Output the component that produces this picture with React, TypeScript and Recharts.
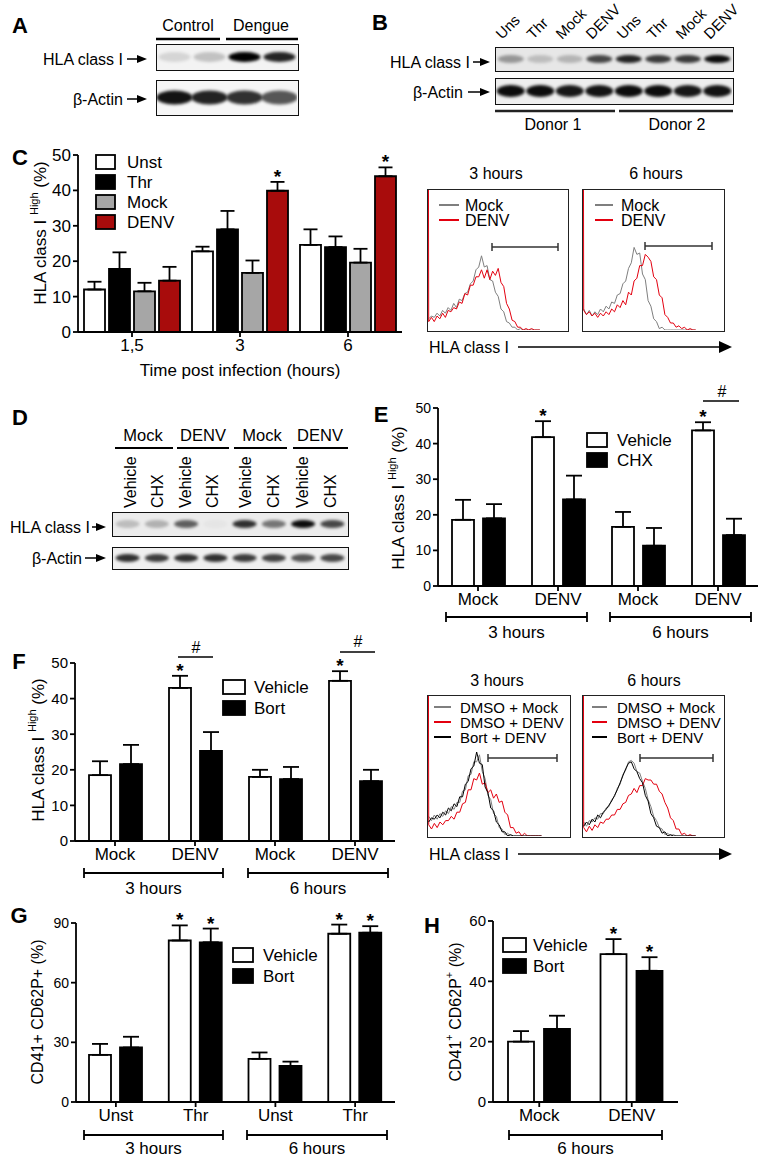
import React from "react";
import { BarChart, Bar, XAxis, YAxis, ErrorBar, LabelList, LineChart, Line, ScatterChart, Scatter } from "recharts";

const FONT = '"Liberation Sans", Arial, Helvetica, sans-serif';
const WHITE = "#ffffff";
const BLACK = "#000000";
const GREY = "#a6a6a6";
const DARKRED = "#a80c0c";
const H_GREY = "#7f7f7f";
const H_RED = "#e3000f";
const H_BLACK = "#000000";

// ---- blots (band intensities 0..1, one per lane)
const blotA_hla = [0.12, 0.2, 1, 0.85];
const blotA_actin = [0.92, 0.86, 0.8, 0.65];
const blotB_lanes = ["Uns", "Thr", "Mock", "DENV", "Uns", "Thr", "Mock", "DENV"];
const blotB_hla = [0.35, 0.18, 0.22, 0.7, 0.85, 0.75, 0.75, 0.95];
const blotB_actin = [0.95, 0.95, 0.9, 0.92, 0.95, 0.95, 0.9, 0.92];
const blotD_groups = ["Mock", "DENV", "Mock", "DENV"];
const blotD_lanes = ["Vehicle", "CHX", "Vehicle", "CHX", "Vehicle", "CHX", "Vehicle", "CHX"];
const blotD_hla = [0.2, 0.25, 0.6, 0.03, 0.8, 0.5, 0.95, 0.7];
const blotD_actin = [0.8, 0.75, 0.8, 0.8, 0.75, 0.72, 0.65, 0.7];

// ---- panel C
const timePoints = ["1,5", "3", "6"];
const cUnst = [12, 22.8, 24.6];
const cUnstErr = [2.2, 1.3, 4.4];
const cThr = [17.8, 29, 24];
const cThrErr = [4.7, 5.2, 3];
const cMock = [11.5, 16.7, 19.6];
const cMockErr = [2.4, 3.5, 3.9];
const cDenv = [14.5, 39.9, 44];
const cDenvErr = [3.9, 2.5, 2.5];
const cDenvStar = ["", "*", "*"];

// ---- histograms (bins at x = 0.5, 2.5, 4.5 ...; red curves also hit the left edge)
const hC3_mock = [8, 10, 9, 12, 10, 14, 12, 16, 14, 19, 16, 22, 21, 26, 27, 33, 35, 43, 45, 53, 45, 46, 36, 35, 27, 24, 15, 13, 6, 5, 2, 2, 0, 1, 0, 0, 0, 0, 0, 0, 0];
const hC3_denv = [6, 9, 6, 10, 8, 12, 9, 14, 13, 16, 15, 20, 19, 26, 25, 32, 32, 38, 38, 43, 37, 43, 36, 42, 39, 44, 34, 31, 19, 15, 7, 6, 2, 2, 0, 1, 0, 1, 0, 0, 0];
const hC6_mock = [15, 11, 14, 10, 13, 11, 15, 13, 17, 15, 20, 19, 25, 26, 33, 35, 44, 48, 59, 54, 55, 40, 36, 21, 17, 8, 6, 1, 2, 0, 0, 0, 0, 0, 0, 0, 0, 0, 0, 0, 0];
const hC6_denv = [14, 11, 13, 10, 12, 9, 12, 10, 13, 11, 15, 13, 18, 16, 21, 18, 27, 25, 35, 37, 46, 46, 54, 52, 49, 38, 36, 25, 23, 11, 9, 5, 5, 2, 3, 1, 2, 0, 1, 0, 0];
const hF3_mock = [14, 11, 15, 12, 16, 14, 18, 16, 21, 19, 24, 24, 32, 33, 43, 44, 53, 53, 58, 46, 41, 29, 26, 16, 14, 6, 5, 1, 2, 0, 0, 0, 0, 0, 0, 0, 0, 0, 0, 0, 0];
const hF3_denv = [8, 5, 9, 6, 10, 8, 11, 11, 14, 12, 17, 17, 23, 24, 33, 33, 41, 40, 45, 37, 38, 31, 33, 27, 30, 24, 25, 17, 15, 6, 6, 2, 3, 0, 2, 0, 0, 0, 0, 0, 0];
const hF3_bort = [10, 13, 12, 15, 13, 17, 15, 20, 18, 23, 21, 28, 28, 37, 39, 48, 50, 60, 52, 51, 35, 31, 20, 18, 10, 8, 3, 3, 0, 1, 0, 0, 0, 0, 0, 0, 0, 0, 0, 0, 0];
const hF6_mock = [10, 7, 11, 10, 13, 12, 16, 16, 20, 21, 26, 28, 34, 37, 44, 47, 53, 54, 52, 46, 45, 39, 34, 26, 21, 14, 11, 6, 5, 1, 2, 0, 1, 0, 0, 0, 0, 0, 0, 0, 0];
const hF6_denv = [6, 3, 7, 4, 8, 6, 10, 9, 12, 12, 15, 15, 19, 19, 23, 24, 29, 30, 34, 31, 36, 36, 41, 40, 40, 37, 37, 32, 30, 24, 20, 13, 11, 5, 5, 1, 2, 0, 1, 0, 0];
const hF6_bort = [7, 10, 8, 12, 10, 15, 13, 17, 19, 22, 25, 29, 33, 38, 43, 48, 52, 53, 48, 46, 41, 38, 29, 25, 16, 13, 7, 6, 2, 3, 0, 1, 0, 0, 0, 0, 0, 0, 0, 0, 0];

// ---- panels E, F, G, H
const treatCats = ["Mock", "DENV", "Mock", "DENV"];
const eVehicle = [18.6, 41.8, 16.6, 43.7];
const eVehicleErr = [5.6, 4.5, 4.2, 2.3];
const eChx = [19, 24.3, 11.3, 14.3];
const eChxErr = [4, 6.7, 5, 4.6];
const eStars = ["", "*", "", "*"];

const fVehicle = [18.5, 43, 18, 45];
const fVehicleErr = [3.9, 3.4, 2, 2.7];
const fBort = [21.6, 25.3, 17.4, 16.8];
const fBortErr = [5.4, 5.3, 3.4, 3.2];
const fStars = ["", "*", "", "*"];

const stimCats = ["Unst", "Thr", "Unst", "Thr"];
const gVehicle = [23.7, 81.2, 21.7, 84.6];
const gVehicleErr = [5.5, 7.6, 3.2, 4.6];
const gBort = [27.4, 80.3, 18.1, 85.1];
const gBortErr = [5.4, 6.9, 2.2, 3.3];
const gStars = ["", "*", "", "*"];

const hCats = ["Mock", "DENV"];
const hVehicle = [20, 49];
const hVehicleErr = [3.5, 5];
const hBort = [24.2, 43.5];
const hBortErr = [4.4, 4.5];
const hStars = ["", "*"];

type Series = { name: string; values: number[]; errs: number[]; stars?: string[]; fill: string };

function Star(props: any) {
  const { value } = props;
  if (!value) return null;
  const vb = typeof props.x === "number" ? props : props.viewBox;
  const { x, y, width, height } = vb;
  const [v, e] = String(value).split("|").map(Number);
  const top = y - (e * height) / v;
  return (
    <text x={x + width / 2} y={top + 1} textAnchor="middle" fontSize={19} fontWeight="bold" fill="#000">
      *
    </text>
  );
}

function GroupBars(p: {
  x: number; y: number; w: number; h: number; axisW: number; mt: number; mr: number;
  cats: string[]; series: Series[]; max: number; ticks: number[];
  barSize: number; barGap: number; capW: number; yFont: number; xFont: number;
}) {
  const data = p.cats.map((c, i) => {
    const row: any = { cat: i };
    p.series.forEach((s, j) => {
      row["v" + j] = s.values[i];
      row["e" + j] = [0, s.errs[i]];
      row["s" + j] = s.stars && s.stars[i] ? `${s.values[i]}|${s.errs[i]}` : null;
    });
    return row;
  });
  const ax = { stroke: "#000", strokeWidth: 1.8 };
  return (
    <div style={{ position: "absolute", left: p.x, top: p.y }}>
      <BarChart width={p.w} height={p.h} data={data} margin={{ top: p.mt, right: p.mr, bottom: 0, left: 0 }}
        barSize={p.barSize} barGap={p.barGap}>
        <XAxis dataKey="cat" tickFormatter={(v: any) => p.cats[v]} interval={0} height={30} tickSize={5}
          axisLine={ax} tickLine={ax} tick={{ fontSize: p.xFont, fill: "#000" }} />
        <YAxis width={p.axisW} domain={[0, p.max]} ticks={p.ticks} interval={0} tickSize={5}
          axisLine={ax} tickLine={ax} tick={{ fontSize: p.yFont, fill: "#000" }} />
        {p.series.map((s, j) => (
          <Bar key={s.name} dataKey={"v" + j} fill={s.fill} stroke="#000" strokeWidth={1.8} isAnimationActive={false}>
            <ErrorBar dataKey={"e" + j} width={p.capW} stroke="#000" strokeWidth={1.8} direction="y" />
            <LabelList dataKey={"s" + j} content={Star} />
          </Bar>
        ))}
      </BarChart>
    </div>
  );
}

type Curve = { values: number[]; color: string; edge?: number };

function Hist(p: { x: number; y: number; w: number; h: number; curves: Curve[] }) {
  const n = p.curves[0].values.length;
  const rows: any[] = [];
  const first: any = { x: 0.35 };
  p.curves.forEach((c, j) => { if (c.edge !== undefined) first["c" + j] = c.edge; });
  rows.push(first);
  for (let i = 0; i < n; i++) {
    const r: any = { x: 0.5 + 2 * i };
    p.curves.forEach((c, j) => { r["c" + j] = c.values[i]; });
    rows.push(r);
  }
  return (
    <div style={{ position: "absolute", left: p.x, top: p.y, width: p.w, height: p.h, border: "1.5px solid #222", boxSizing: "border-box" }}>
      <LineChart width={p.w - 3} height={p.h - 3} data={rows} margin={{ top: 0, right: 0, bottom: 0, left: 0 }}>
        <XAxis type="number" dataKey="x" domain={[0, 100]} hide />
        <YAxis type="number" domain={[0, 100]} hide allowDataOverflow />
        {p.curves.map((c, j) => (
          <Line key={j} dataKey={"c" + j} stroke={c.color} strokeWidth={1} dot={false} type="linear"
            isAnimationActive={false} connectNulls />
        ))}
      </LineChart>
    </div>
  );
}

function Blot(p: { x: number; y: number; w: number; h: number; bands: number[]; rx: number; ry: number; bg: string }) {
  const data = p.bands.map((v, i) => ({ lane: i + 1, y: 0.5, v }));
  return (
    <div style={{ position: "absolute", left: p.x, top: p.y, width: p.w, height: p.h, border: "1.5px solid #111", background: p.bg, boxSizing: "border-box" }}>
      <ScatterChart width={p.w - 3} height={p.h - 3} margin={{ top: 0, right: 0, bottom: 0, left: 0 }}>
        <XAxis type="number" dataKey="lane" domain={[0.5, p.bands.length + 0.5]} hide />
        <YAxis type="number" dataKey="y" domain={[0, 1]} hide />
        <Scatter data={data} isAnimationActive={false}
          shape={(s: any) => (
            <ellipse cx={s.cx} cy={s.cy} rx={p.rx} ry={p.ry} fill="#000" fillOpacity={s.payload.v} filter="url(#bandBlur)" />
          )} />
      </ScatterChart>
    </div>
  );
}

function SvgLegend(p: { x: number; y: number; row: number; bw: number; bh: number; tx: number; size: number; items: { name: string; fill: string }[] }) {
  return (
    <g>
      {p.items.map((it, i) => (
        <g key={it.name}>
          <rect x={p.x} y={p.y + i * p.row - p.bh / 2} width={p.bw} height={p.bh} fill={it.fill} stroke="#000" strokeWidth={1.8} />
          <text x={p.x + p.tx} y={p.y + i * p.row} fontSize={p.size} dominantBaseline="central">{it.name}</text>
        </g>
      ))}
    </g>
  );
}

function LineLegend(p: { x: number; y: number; row: number; len: number; tx: number; size: number; items: { name: string; color: string }[] }) {
  return (
    <g>
      {p.items.map((it, i) => (
        <g key={it.name}>
          <line x1={p.x} x2={p.x + p.len} y1={p.y + i * p.row} y2={p.y + i * p.row} stroke={it.color} strokeWidth={2} />
          <text x={p.x + p.tx} y={p.y + i * p.row} fontSize={p.size} dominantBaseline="central">{it.name}</text>
        </g>
      ))}
    </g>
  );
}

function Arrow(p: { x1: number; x2: number; y: number; head?: number; hh?: number; sw?: number }) {
  const head = p.head || 10;
  const hh = p.hh || 4;
  return (
    <g>
      <line x1={p.x1} x2={p.x2 - head + 1} y1={p.y} y2={p.y} stroke="#000" strokeWidth={p.sw || 1.5} />
      <polygon points={`${p.x2 - head},${p.y - hh} ${p.x2},${p.y} ${p.x2 - head},${p.y + hh}`} fill="#000" />
    </g>
  );
}

function Bracket(p: { x1: number; x2: number; y: number; label: string; ly: number }) {
  return (
    <g>
      <line x1={p.x1} x2={p.x2} y1={p.y} y2={p.y} stroke="#000" strokeWidth={1.8} />
      <line x1={p.x1} x2={p.x1} y1={p.y - 5} y2={p.y + 5} stroke="#000" strokeWidth={1.8} />
      <line x1={p.x2} x2={p.x2} y1={p.y - 5} y2={p.y + 5} stroke="#000" strokeWidth={1.8} />
      <text x={(p.x1 + p.x2) / 2} y={p.ly} fontSize={17} textAnchor="middle" dominantBaseline="central">{p.label}</text>
    </g>
  );
}

function Gate(p: { x1: number; x2: number; y: number }) {
  return (
    <g stroke="#333" strokeWidth={1.5}>
      <line x1={p.x1} x2={p.x2} y1={p.y} y2={p.y} />
      <line x1={p.x1} x2={p.x1} y1={p.y - 4} y2={p.y + 4} />
      <line x1={p.x2} x2={p.x2} y1={p.y - 4} y2={p.y + 4} />
    </g>
  );
}

function Letter(p: { x: number; y: number; c: string }) {
  return <text x={p.x} y={p.y} fontSize={22} fontWeight="bold" textAnchor="middle" dominantBaseline="central">{p.c}</text>;
}

function HlaLabel(p: { x: number; y: number; size?: number }) {
  return (
    <text transform={`translate(${p.x},${p.y}) rotate(-90)`} textAnchor="middle" dominantBaseline="central" fontSize={p.size || 17}>
      HLA class I <tspan baselineShift="super" fontSize={11}>High</tspan> (%)
    </text>
  );
}

const vehBort = (v: number[], ve: number[], b: number[], be: number[], st: string[], name2: string): Series[] => [
  { name: "Vehicle", values: v, errs: ve, stars: st, fill: WHITE },
  { name: name2, values: b, errs: be, fill: BLACK },
];

export default function App() {
  const cSeries: Series[] = [
    { name: "Unst", values: cUnst, errs: cUnstErr, fill: WHITE },
    { name: "Thr", values: cThr, errs: cThrErr, fill: BLACK },
    { name: "Mock", values: cMock, errs: cMockErr, fill: GREY },
    { name: "DENV", values: cDenv, errs: cDenvErr, stars: cDenvStar, fill: DARKRED },
  ];
  const eSeries = vehBort(eVehicle, eVehicleErr, eChx, eChxErr, eStars, "CHX");
  const fSeries = vehBort(fVehicle, fVehicleErr, fBort, fBortErr, fStars, "Bort");
  const gSeries: Series[] = [
    { name: "Vehicle", values: gVehicle, errs: gVehicleErr, stars: gStars, fill: WHITE },
    { name: "Bort", values: gBort, errs: gBortErr, stars: gStars, fill: BLACK },
  ];
  const hSeries: Series[] = [
    { name: "Vehicle", values: hVehicle, errs: hVehicleErr, stars: hStars, fill: WHITE },
    { name: "Bort", values: hBort, errs: hBortErr, stars: hStars, fill: BLACK },
  ];
  const laneX = [130, 157, 185, 212, 245, 273, 302, 330];
  const bLabelX = [502, 533, 562, 592, 623, 653, 682, 710];
  const dHeadX = [143, 203, 262, 320];
  const dHeadLines = [[115, 173], [177, 229], [234, 287], [293, 348]];

  return (
    <div style={{ position: "absolute", left: 0, top: 0, width: 760, height: 1156, background: "#fff", fontFamily: FONT, color: "#000", overflow: "hidden" }}>
      {/* A */}
      <Blot x={156} y={44} w={143} h={27} bands={blotA_hla} rx={16} ry={5} bg="#f3f3f3" />
      <Blot x={156} y={80} w={143} h={36} bands={blotA_actin} rx={18} ry={7} bg="#f6f6f6" />
      {/* B */}
      <Blot x={495} y={47} w={239} h={25} bands={blotB_hla} rx={13} ry={4} bg="#e7e7e7" />
      <Blot x={495} y={78} w={239} h={27} bands={blotB_actin} rx={14} ry={6} bg="#eeeeee" />
      {/* D */}
      <Blot x={112} y={512} w={237} h={25} bands={blotD_hla} rx={12} ry={4} bg="#ececec" />
      <Blot x={112} y={547} w={237} h={23} bands={blotD_actin} rx={12} ry={4} bg="#f0f0f0" />

      {/* C */}
      <GroupBars x={0} y={140} w={410} h={222} axisW={78} mt={15} mr={8} cats={timePoints} series={cSeries}
        max={50} ticks={[0, 10, 20, 30, 40, 50]} barSize={21} barGap={4} capW={7} yFont={17} xFont={17} />
      <Hist x={427} y={189} w={142} h={143} curves={[{ values: hC3_mock, color: H_GREY }, { values: hC3_denv, color: H_RED, edge: 100 }]} />
      <Hist x={582} y={189} w={143} h={143} curves={[{ values: hC6_mock, color: H_GREY }, { values: hC6_denv, color: H_RED, edge: 100 }]} />

      {/* E */}
      <GroupBars x={380} y={390} w={380} h={226} axisW={58} mt={18} mr={2} cats={treatCats} series={eSeries}
        max={50} ticks={[0, 10, 20, 30, 40, 50]} barSize={22} barGap={9} capW={8} yFont={14} xFont={17} />

      {/* F */}
      <GroupBars x={0} y={645} w={400} h={226} axisW={75} mt={18} mr={5} cats={treatCats} series={fSeries}
        max={50} ticks={[0, 10, 20, 30, 40, 50]} barSize={22} barGap={9} capW={8} yFont={15} xFont={17} />
      <Hist x={427} y={695} w={144} h={143} curves={[{ values: hF3_mock, color: H_GREY }, { values: hF3_denv, color: H_RED, edge: 100 }, { values: hF3_bort, color: H_BLACK }]} />
      <Hist x={582} y={695} w={143} h={143} curves={[{ values: hF6_mock, color: H_GREY }, { values: hF6_denv, color: H_RED, edge: 100 }, { values: hF6_bort, color: H_BLACK }]} />

      {/* G */}
      <GroupBars x={0} y={905} w={400} h={227} axisW={76} mt={18} mr={5} cats={stimCats} series={gSeries}
        max={90} ticks={[0, 30, 60, 90]} barSize={22} barGap={9} capW={8} yFont={14} xFont={17} />

      {/* H */}
      <GroupBars x={420} y={905} w={260} h={227} axisW={73} mt={16} mr={2} cats={hCats} series={hSeries}
        max={60} ticks={[0, 20, 40, 60]} barSize={26} barGap={10} capW={8} yFont={15} xFont={17} />

      <svg width={760} height={1156} style={{ position: "absolute", left: 0, top: 0, pointerEvents: "none", fontFamily: FONT }}>
        <defs>
          <filter id="bandBlur" x="-50%" y="-150%" width="200%" height="400%">
            <feGaussianBlur stdDeviation="1.6" />
          </filter>
        </defs>

        {/* panel letters */}
        <Letter x={20} y={25} c="A" />
        <Letter x={380} y={22} c="B" />
        <Letter x={20} y={157} c="C" />
        <Letter x={20} y={417} c="D" />
        <Letter x={381} y={414} c="E" />
        <Letter x={19} y={661} c="F" />
        <Letter x={19} y={915} c="G" />
        <Letter x={432} y={925} c="H" />

        {/* A labels */}
        <text x={188} y={25} fontSize={16} textAnchor="middle" dominantBaseline="central">Control</text>
        <text x={261} y={25} fontSize={16} textAnchor="middle" dominantBaseline="central">Dengue</text>
        <line x1={156} x2={220} y1={39} y2={39} stroke="#000" strokeWidth={2.5} />
        <line x1={226} x2={298} y1={39} y2={39} stroke="#000" strokeWidth={2.5} />
        <text x={123} y={59} fontSize={16} textAnchor="end" dominantBaseline="central">HLA class I</text>
        <Arrow x1={127} x2={147} y={59} />
        <text x={123} y={99} fontSize={16} textAnchor="end" dominantBaseline="central">β-Actin</text>
        <Arrow x1={127} x2={147} y={99} />

        {/* B labels */}
        {blotB_lanes.map((l, i) => (
          <text key={i} transform={`translate(${bLabelX[i]},40) rotate(-45)`} fontSize={15}>{l}</text>
        ))}
        <text x={470} y={62} fontSize={16} textAnchor="end" dominantBaseline="central">HLA class I</text>
        <Arrow x1={473} x2={490} y={62} />
        <text x={463} y={92} fontSize={16} textAnchor="end" dominantBaseline="central">β-Actin</text>
        <Arrow x1={468} x2={490} y={92} />
        <line x1={495} x2={615} y1={111} y2={111} stroke="#222" strokeWidth={2.5} />
        <line x1={619} x2={733} y1={111} y2={111} stroke="#222" strokeWidth={2.5} />
        <text x={553} y={124} fontSize={16} textAnchor="middle" dominantBaseline="central">Donor 1</text>
        <text x={677} y={124} fontSize={16} textAnchor="middle" dominantBaseline="central">Donor 2</text>

        {/* C */}
        <HlaLabel x={40} y={233} />
        <text x={240} y={370} fontSize={17} textAnchor="middle" dominantBaseline="central">Time post infection (hours)</text>
        <SvgLegend x={96} y={162} row={20} bw={19} bh={14} tx={31} size={17}
          items={[{ name: "Unst", fill: WHITE }, { name: "Thr", fill: BLACK }, { name: "Mock", fill: GREY }, { name: "DENV", fill: DARKRED }]} />
        <text x={496} y={173} fontSize={16} textAnchor="middle" dominantBaseline="central">3 hours</text>
        <text x={656} y={173} fontSize={16} textAnchor="middle" dominantBaseline="central">6 hours</text>
        <LineLegend x={439} y={205} row={15} len={20} tx={26} size={16} items={[{ name: "Mock", color: H_GREY }, { name: "DENV", color: H_RED }]} />
        <LineLegend x={595} y={205} row={15} len={18} tx={26} size={16} items={[{ name: "Mock", color: H_GREY }, { name: "DENV", color: H_RED }]} />
        <Gate x1={492} x2={558} y={247} />
        <Gate x1={645} x2={712} y={246} />
        <text x={429} y={347} fontSize={16} dominantBaseline="central">HLA class I</text>
        <Arrow x1={518} x2={732} y={347} head={13} hh={6} />

        {/* D */}
        {blotD_groups.map((g, i) => (
          <text key={i} x={dHeadX[i]} y={435} fontSize={16.5} textAnchor="middle" dominantBaseline="central">{g}</text>
        ))}
        {dHeadLines.map((s, i) => (
          <line key={i} x1={s[0]} x2={s[1]} y1={448} y2={448} stroke="#000" strokeWidth={2} />
        ))}
        {blotD_lanes.map((l, i) => (
          <text key={i} transform={`translate(${laneX[i] + 6},508) rotate(-90)`} fontSize={16}>{l}</text>
        ))}
        <text x={90} y={527} fontSize={16} textAnchor="end" dominantBaseline="central">HLA class I</text>
        <Arrow x1={92} x2={106} y={527} />
        <text x={82} y={558} fontSize={16} textAnchor="end" dominantBaseline="central">β-Actin</text>
        <Arrow x1={85} x2={106} y={558} />

        {/* E */}
        <HlaLabel x={398} y={498} />
        <SvgLegend x={587} y={440} row={20} bw={20} bh={14} tx={30} size={17}
          items={[{ name: "Vehicle", fill: WHITE }, { name: "CHX", fill: BLACK }]} />
        <line x1={703} x2={739} y1={401} y2={401} stroke="#000" strokeWidth={1.5} />
        <text x={722} y={391} fontSize={16} textAnchor="middle" dominantBaseline="central">#</text>
        <Bracket x1={446} x2={587} y={617} label="3 hours" ly={632} />
        <Bracket x1={610} x2={751} y={617} label="6 hours" ly={632} />

        {/* F */}
        <HlaLabel x={38} y={750} />
        <SvgLegend x={223} y={687} row={21} bw={22} bh={14} tx={31} size={17}
          items={[{ name: "Vehicle", fill: WHITE }, { name: "Bort", fill: BLACK }]} />
        <line x1={178} x2={213} y1={657} y2={657} stroke="#000" strokeWidth={1.5} />
        <text x={196} y={647} fontSize={16} textAnchor="middle" dominantBaseline="central">#</text>
        <line x1={340} x2={375} y1={652} y2={652} stroke="#000" strokeWidth={1.5} />
        <text x={358} y={641} fontSize={16} textAnchor="middle" dominantBaseline="central">#</text>
        <Bracket x1={84} x2={223} y={873} label="3 hours" ly={888} />
        <Bracket x1={248} x2={388} y={873} label="6 hours" ly={888} />
        <text x={497} y={680} fontSize={16} textAnchor="middle" dominantBaseline="central">3 hours</text>
        <text x={654} y={680} fontSize={16} textAnchor="middle" dominantBaseline="central">6 hours</text>
        <LineLegend x={434} y={707} row={15} len={17} tx={26} size={15}
          items={[{ name: "DMSO + Mock", color: H_GREY }, { name: "DMSO + DENV", color: H_RED }, { name: "Bort + DENV", color: H_BLACK }]} />
        <LineLegend x={592} y={707} row={15} len={15} tx={25} size={15}
          items={[{ name: "DMSO + Mock", color: H_GREY }, { name: "DMSO + DENV", color: H_RED }, { name: "Bort + DENV", color: H_BLACK }]} />
        <Gate x1={488} x2={557} y={758} />
        <Gate x1={640} x2={713} y={758} />
        <text x={429} y={854} fontSize={16} dominantBaseline="central">HLA class I</text>
        <Arrow x1={518} x2={732} y={854} head={13} hh={6} />

        {/* G */}
        <text transform="translate(37,1012) rotate(-90)" textAnchor="middle" dominantBaseline="central" fontSize={16}>CD41+ CD62P+ (%)</text>
        <SvgLegend x={233} y={955} row={21} bw={20} bh={14} tx={30} size={17}
          items={[{ name: "Vehicle", fill: WHITE }, { name: "Bort", fill: BLACK }]} />
        <Bracket x1={84} x2={223} y={1135} label="3 hours" ly={1148} />
        <Bracket x1={247} x2={387} y={1135} label="6 hours" ly={1148} />

        {/* H */}
        <text transform="translate(455,1012) rotate(-90)" textAnchor="middle" dominantBaseline="central" fontSize={16}>
          CD41<tspan baselineShift="super" fontSize={11}>+</tspan> CD62P<tspan baselineShift="super" fontSize={11}>+</tspan> (%)
        </text>
        <SvgLegend x={503} y={945} row={21} bw={23} bh={14} tx={30} size={17}
          items={[{ name: "Vehicle", fill: WHITE }, { name: "Bort", fill: BLACK }]} />
        <Bracket x1={509} x2={662} y={1135} label="6 hours" ly={1148} />
      </svg>
    </div>
  );
}
